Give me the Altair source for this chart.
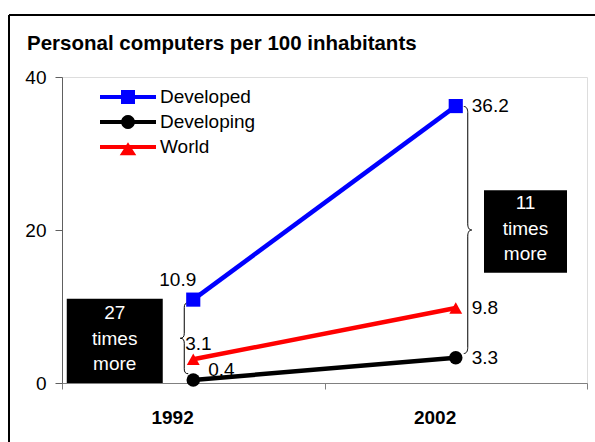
import altair as alt
import pandas as pd

# ---- data ----
years = ["1992", "2002"]
series = ["Developed", "Developing", "World"]
developed = [10.9, 36.2]
developing = [0.4, 3.3]
world = [3.1, 9.8]
colors = ["#0000FF", "#000000", "#FF0000"]

box_years = ["1992", "2002"]
box_lo = [0.0, 14.4]
box_hi = [11.0, 25.2]
box_text_top = [9.1, 23.5]
box_text = ["27\ntimes\nmore", "11\ntimes\nmore"]

brace_years = ["1992", "2002"]
brace_mid = [5.85, 20.0]

title_text = "Personal computers per 100 inhabitants"

FONT = "Liberation Sans"

rows = []
for s, vals in zip(series, [developed, developing, world]):
    for y, v in zip(years, vals):
        rows.append({"year": y, "series": s, "value": v, "label": f"{v}"})
df = pd.DataFrame(rows)

boxes = pd.DataFrame({"year": box_years, "lo": box_lo, "hi": box_hi,
                      "ttop": box_text_top, "text": box_text})
braces = pd.DataFrame({"year": brace_years, "mid": brace_mid})

# ---- scales ----
xscale = alt.Scale(type="band", domain=years, paddingInner=0, paddingOuter=0)
yscale = alt.Scale(domain=[0, 40], nice=False, zero=True)

X = alt.X("year:N", scale=xscale, title=None,
          axis=alt.Axis(tickBand="extent", labelAngle=0, labelFontWeight="bold",
                        labelFontSize=19, labelFont=FONT, labelColor="black",
                        tickSize=6, tickColor="#808080", domainColor="#808080",
                        labelPadding=28, ticks=True, grid=False))
Y = alt.Y("value:Q", scale=yscale, title=None,
          axis=alt.Axis(values=[0, 20, 40], grid=False, labelFontSize=19,
                        labelFont=FONT, labelColor="black", tickSize=7,
                        tickColor="#606060", domainColor="#606060",
                        labelPadding=9))

color_nolegend = alt.Color("series:N", scale=alt.Scale(domain=series, range=colors), legend=None)

base = alt.Chart(df)

lines = base.mark_line(strokeWidth=4.5).encode(x=X, y=Y, color=color_nolegend)

tri_path = "M0,-0.9 L1,0.9 L-1,0.9 Z"
points = base.mark_point(filled=True, opacity=1).encode(
    x=X, y=Y, color=color_nolegend,
    shape=alt.Shape("series:N", scale=alt.Scale(domain=series, range=["square", "circle", tri_path]), legend=None),
    size=alt.Size("series:N", scale=alt.Scale(domain=series, range=[200, 165, 225]), legend=None),
)

# legend layer (no marks drawn; legend built from the explicit scale domain)
leg_sq = ("M-2.333,-0.167 L-0.583,-0.167 L-0.583,-0.583 L0.583,-0.583 L0.583,-0.167 "
          "L2.333,-0.167 L2.333,0.167 L0.583,0.167 L0.583,0.583 L-0.583,0.583 "
          "L-0.583,0.167 L-2.333,0.167 Z")
leg_ci = ("M-2.333,-0.167 L-0.559,-0.167 A0.583,0.583 0 0,1 0.559,-0.167 L2.333,-0.167 "
          "L2.333,0.167 L0.559,0.167 A0.583,0.583 0 0,1 -0.559,0.167 L-2.333,0.167 Z")
leg_tr = ("M-2.333,-0.167 L-0.143,-0.167 L0,-0.39 L0.143,-0.167 L2.333,-0.167 "
          "L2.333,0.167 L0.356,0.167 L0.69,0.69 L-0.69,0.69 L-0.356,0.167 L-2.333,0.167 Z")

legend_layer = base.transform_filter("false").mark_point(filled=True, opacity=1).encode(
    x=X, y=Y,
    color=alt.Color("series:N", scale=alt.Scale(domain=series, range=colors),
                    legend=alt.Legend(title=None, orient="none", legendX=54, legendY=8,
                                      labelFontSize=19, labelFont=FONT, labelColor="black",
                                      symbolSize=576, labelOffset=20, rowPadding=3,
                                      symbolOpacity=1, symbolStrokeWidth=0, padding=0)),
    shape=alt.Shape("series:N", scale=alt.Scale(domain=series, range=[leg_sq, leg_ci, leg_tr])),
)

# value labels
def lab(flt, align, dx, dy):
    return base.transform_filter(flt).mark_text(
        align=align, baseline="middle", dx=dx, dy=dy, fontSize=19, font=FONT, color="black"
    ).encode(x=X, y=Y, text="label:N")

lab1 = lab("datum.year == '1992' && datum.series == 'Developed'", "right", 3, -20)
lab2 = lab("datum.year == '1992' && datum.series == 'World'", "left", -8, -15)
lab3 = lab("datum.year == '1992' && datum.series == 'Developing'", "left", 15, -10)
lab4 = lab("datum.year == '2002'", "left", 16, 0)

# boxes
bx = alt.Chart(boxes)
box1 = bx.transform_filter("datum.year == '1992'").mark_bar(color="black", width=96, xOffset=-78.5).encode(
    x=alt.X("year:N", scale=xscale), y=alt.Y("lo:Q", scale=yscale), y2="hi:Q")
box2 = bx.transform_filter("datum.year == '2002'").mark_bar(color="black", width=83, xOffset=69.75).encode(
    x=alt.X("year:N", scale=xscale), y=alt.Y("lo:Q", scale=yscale), y2="hi:Q")
txt1 = bx.transform_filter("datum.year == '1992'").mark_text(
    color="white", fontSize=19, font=FONT, lineBreak="\n", lineHeight=25.5,
    baseline="middle", xOffset=-78.5).encode(
    x=alt.X("year:N", scale=xscale), y=alt.Y("ttop:Q", scale=yscale), text="text:N")
txt2 = bx.transform_filter("datum.year == '2002'").mark_text(
    color="white", fontSize=19, font=FONT, lineBreak="\n", lineHeight=25.5,
    baseline="middle", xOffset=69.75).encode(
    x=alt.X("year:N", scale=xscale), y=alt.Y("ttop:Q", scale=yscale), text="text:N")

# braces
left_brace = ("M0.113,-1 C0.03,-1 0,-0.95 0,-0.86 L0,-0.14 C0,-0.05 -0.03,0 -0.113,0 "
              "C-0.03,0 0,0.05 0,0.14 L0,0.86 C0,0.95 0.03,1 0.113,1")
right_brace = ("M-0.032,-1 C-0.01,-1 0,-0.98 0,-0.95 L0,-0.05 C0,-0.02 0.01,0 0.032,0 "
               "C0.01,0 0,0.02 0,0.05 L0,0.95 C0,0.98 -0.01,1 -0.032,1")
br = alt.Chart(braces)
brace1 = br.transform_filter("datum.year == '1992'").mark_point(
    shape=left_brace, size=5041, filled=False, stroke="black", strokeWidth=1,
    opacity=1, xOffset=-9).encode(x=alt.X("year:N", scale=xscale), y=alt.Y("mid:Q", scale=yscale))
brace2 = br.transform_filter("datum.year == '2002'").mark_point(
    shape=right_brace, size=61009, filled=False, stroke="black", strokeWidth=1,
    opacity=1, xOffset=12).encode(x=alt.X("year:N", scale=xscale), y=alt.Y("mid:Q", scale=yscale))

# outer frame (decoration) and chart title
one = pd.DataFrame({"a": [0]})
frame_left = alt.Chart(one).mark_rule(color="black", strokeWidth=2).encode(
    x=alt.value(-53), y=alt.value(-62), y2=alt.value(420))
frame_top = alt.Chart(one).mark_rule(color="black", strokeWidth=2).encode(
    x=alt.value(-53), x2=alt.value(560), y=alt.value(-62))
title_mark = alt.Chart(one).mark_text(
    align="left", baseline="alphabetic", fontSize=20.5, fontWeight="bold", font=FONT, color="black"
).encode(x=alt.value(-35), y=alt.value(-27), text=alt.value(title_text))

chart = alt.layer(
    frame_left, frame_top, title_mark, box1, box2, txt1, txt2, brace1, brace2,
    lines, points, legend_layer, lab1, lab2, lab3, lab4
).resolve_scale(shape="independent", color="independent", size="independent").properties(
    width=525, height=306,
    autosize=alt.AutoSizeParams(type="none"),
    padding={"left": 62, "top": 77, "right": 8, "bottom": 59},
).configure_view(stroke=None).configure(background="white")

chart.save("out.html", embed_options={"renderer": "svg", "actions": False})
